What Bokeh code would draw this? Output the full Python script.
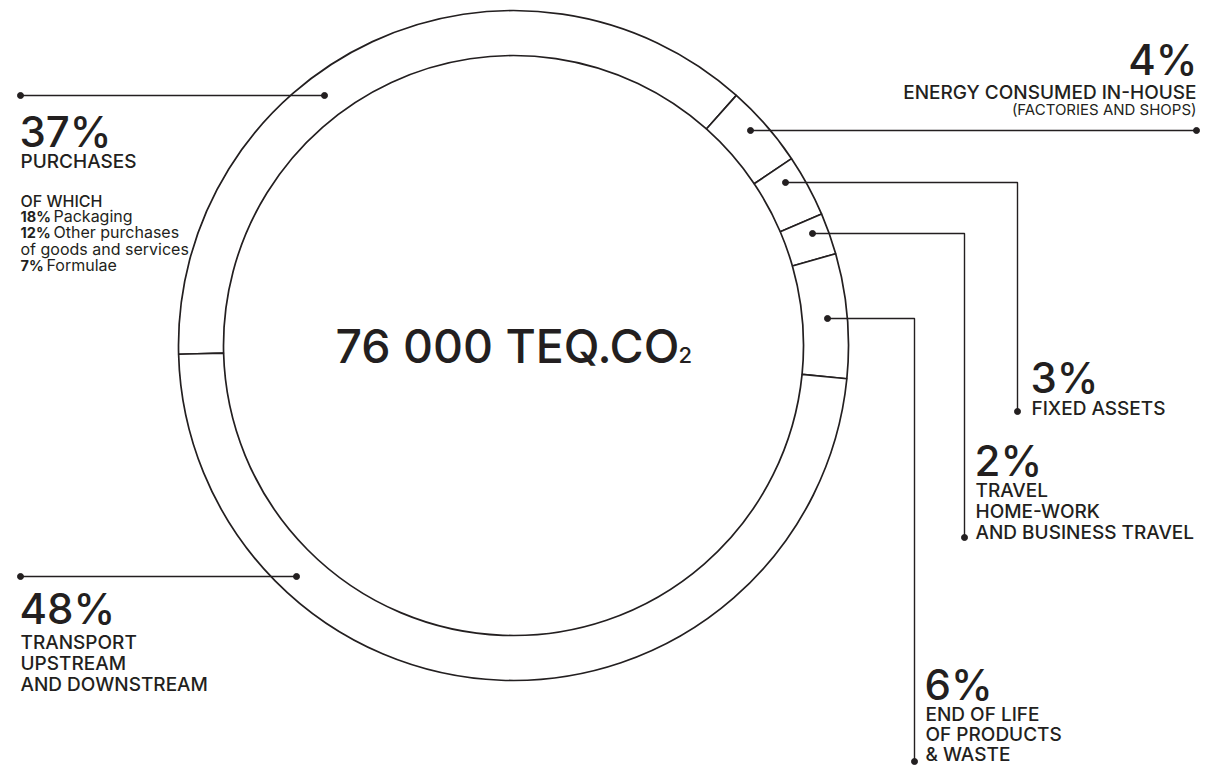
import numpy as np
from bokeh.plotting import figure
from bokeh.models import Range1d
from bokeh.embed import file_html
from bokeh.resources import INLINE
from bokeh.core.properties import value

# ---- data: carbon footprint breakdown (% of total emissions) ----
categories = ["PURCHASES", "ENERGY CONSUMED IN-HOUSE", "FIXED ASSETS",
              "TRAVEL", "END OF LIFE", "TRANSPORT"]
shares = [37, 4, 3, 2, 6, 48]
total_label = "76 000 TEQ.CO"
total_subscript = "2"
purchase_part_shares = [18, 12, 7]
purchase_part_names = ["Packaging", "Other purchases", "Formulae"]

# ---- page / style ----
W, H = 1222, 765
INK = "#231f20"
FONT = "Inter"
FONT_MED = "Inter Medium"
CX, CY = 513, 345           # ring centre (page pixels, y down)
R_IN, R_OUT = 290, 335
START_DEG = 181.5           # first slice starts just below 9 o'clock, runs clockwise
BASE_SHIFT = 0.38           # baseline correction, in em


def Y(py):
    """page pixel row -> data y"""
    return H - py


p = figure(width=W, height=H, x_range=Range1d(0, W), y_range=Range1d(0, H),
           output_backend="svg", toolbar_location=None, min_border=0)
p.axis.visible = False
p.grid.visible = False
p.outline_line_color = None
p.background_fill_color = "white"
p.border_fill_color = "white"

# ---- ring of slices ----
frac = np.array(shares, dtype=float) / sum(shares)
bounds = np.radians(START_DEG) - np.concatenate([[0], np.cumsum(frac)]) * 2 * np.pi
p.annular_wedge(x=CX, y=Y(CY), inner_radius=R_IN, outer_radius=R_OUT,
                start_angle=bounds[1:], end_angle=bounds[:-1],
                fill_color="white", line_color=INK, line_width=1.7)

# ---- leader lines (page pixel coords) ----
leaders = [
    [(20, 95), (324, 95)],                      # purchases
    [(750, 130), (1196, 130)],                  # energy
    [(785, 182), (1017, 182), (1017, 411)],     # fixed assets
    [(812, 233), (964, 233), (964, 537)],       # travel
    [(827, 318), (914, 318), (914, 761)],       # end of life
    [(20, 576), (296, 576)],                    # transport
]
p.multi_line(xs=[[q[0] for q in L] for L in leaders],
             ys=[[Y(q[1]) for q in L] for L in leaders],
             line_color=INK, line_width=1.4)
dots = [q for L in leaders for q in (L[0], L[-1])]
p.scatter(x=[d[0] for d in dots], y=[Y(d[1]) for d in dots],
          size=6, fill_color=INK, line_color=INK)


def txt(s, x, py, size, align="left", style="normal", font=FONT_MED):
    p.text(x=[x], y=[Y(py) + BASE_SHIFT * size], text=[s], text_font=value(font),
           text_font_size=f"{size}px", text_align=align,
           text_baseline="alphabetic", text_color=INK,
           text_font_style=style)


pct = [f"{s}%" for s in shares]
BIG, LAB = 42, 19

# purchases block
txt(pct[0], 19, 147, BIG)
txt(categories[0], 20, 168, LAB)
txt("OF WHICH", 20, 207, 16)
sub_x = [53, 53, 46]
sub_y = [222, 238, 271]
for s, name, xx, yy in zip(purchase_part_shares, purchase_part_names, sub_x, sub_y):
    txt(f"{s}%", 20, yy, 14.5, style="bold", font=FONT)
    txt(name, xx, yy, 16, font=FONT)
txt("of goods  and services", 20, 255, 16, font=FONT)

# energy block (right aligned)
txt(pct[1], 1197, 75, BIG, align="right")
txt(categories[1], 1196, 99, LAB, align="right")
txt("(FACTORIES AND SHOPS)", 1196, 115, 15, align="right", font=FONT)

# fixed assets
txt(pct[2], 1030, 393, BIG)
txt(categories[2], 1031, 415, LAB)

# travel
txt(pct[3], 974, 476, BIG)
for i, line in enumerate([categories[3], "HOME-WORK", "AND BUSINESS TRAVEL"]):
    txt(line, 975, 497 + 21 * i, LAB)

# end of life
txt(pct[4], 924, 700, BIG)
for i, line in enumerate([categories[4], "OF PRODUCTS", "& WASTE"]):
    txt(line, 925, 721 + 20 * i, LAB)

# transport
txt(pct[5], 19, 624, BIG)
for i, line in enumerate([categories[5], "UPSTREAM", "AND DOWNSTREAM"]):
    txt(line, 20, 649 + 21 * i, LAB)

# total in the middle, with a small subscript 2
txt(total_label, 335, 363, 46.5)
txt(total_subscript, 678, 363, 22)

open("out.html", "w").write(file_html(p, INLINE))
